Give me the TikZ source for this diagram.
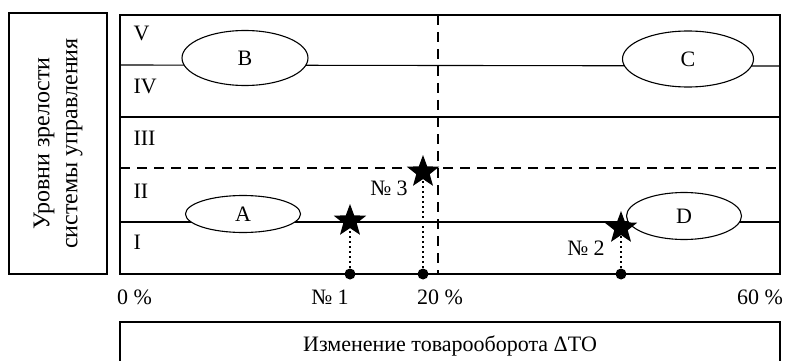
\documentclass[tikz,border=0pt]{standalone}
\usepackage{fontspec}
\setmainfont{Liberation Serif}
\usetikzlibrary{shapes.geometric}

\tikzset{
  levelname/.style={anchor=west, inner sep=0pt},
  zone/.style={ellipse, draw, fill=white, inner sep=0pt},
  firm/.style={star, star points=5, star point ratio=2.4, fill=black, inner sep=0pt, minimum size=34pt},
  foot/.style={circle, fill=black, inner sep=0pt, minimum size=11pt},
  border/.style={dash pattern=on 10pt off 7pt, line width=1.8pt},
  drop/.style={dash pattern=on 2pt off 3pt, line width=1.6pt},
}

\begin{document}
\begin{tikzpicture}[x=1pt, y=-1pt, font=\fontsize{22}{25}\selectfont, line width=1.1pt]
\useasboundingbox (0,0) rectangle (785,361);

% Axis boxes
\node[draw, rotate=90, minimum width=261pt, minimum height=98pt, align=center, font=\fontsize{24}{28}\selectfont] (yaxis) at (58,143.5) {Уровни зрелости\\системы управления};
\node[draw, minimum width=660pt, minimum height=48pt] (xaxis) at (450,346) {Изменение товарооборота ΔТО};

% Field with levels
\node[draw, minimum width=660pt, minimum height=259pt, inner sep=0pt] (field) at (450,144.5) {};
\draw (120,65) -- (780,66);
\draw (120,117) -- (780,117);
\draw (120,222) -- (780,222);
\draw[border] (120,168) -- (780,168);
\draw[border] (437.6,15) -- (437.6,274);

\node[levelname] (lv5) at (133,33.5) {V};
\node[levelname] (lv4) at (133,86) {IV};
\node[levelname] (lv3) at (133,138) {III};
\node[levelname] (lv2) at (133,191) {II};
\node[levelname] (lv1) at (133,242) {I};

% Zones
\node[zone, minimum width=126pt, minimum height=55pt] (zoneB) at (245,58) {B};
\node[zone, minimum width=131pt, minimum height=56pt] (zoneC) at (688,59) {C};
\node[zone, minimum width=115pt, minimum height=37pt] (zoneA) at (243,214) {A};
\node[zone, minimum width=115pt, minimum height=47pt] (zoneD) at (684,216) {D};

% Enterprises
\node[foot] (f1) at (350,274) {};
\node[foot] (f3) at (423,274) {};
\node[foot] (f2) at (621,274) {};
\node[firm] (s1) at (350,221) {};
\node[firm] (s3) at (423,172) {};
\node[firm] (s2) at (621,228) {};
\draw[drop] (f1) -- (s1);
\draw[drop] (f3) -- (s3);
\draw[drop] (f2) -- (s2);

\node (n3) at (389,188) {№ 3};
\node (n2) at (586,248) {№ 2};

% Scale
\node (p0) at (134.5,297) {0 \%};
\node (n1) at (330,297) {№ 1};
\node (p20) at (440,297) {20 \%};
\node (p60) at (760,297) {60 \%};
\end{tikzpicture}
\end{document}
